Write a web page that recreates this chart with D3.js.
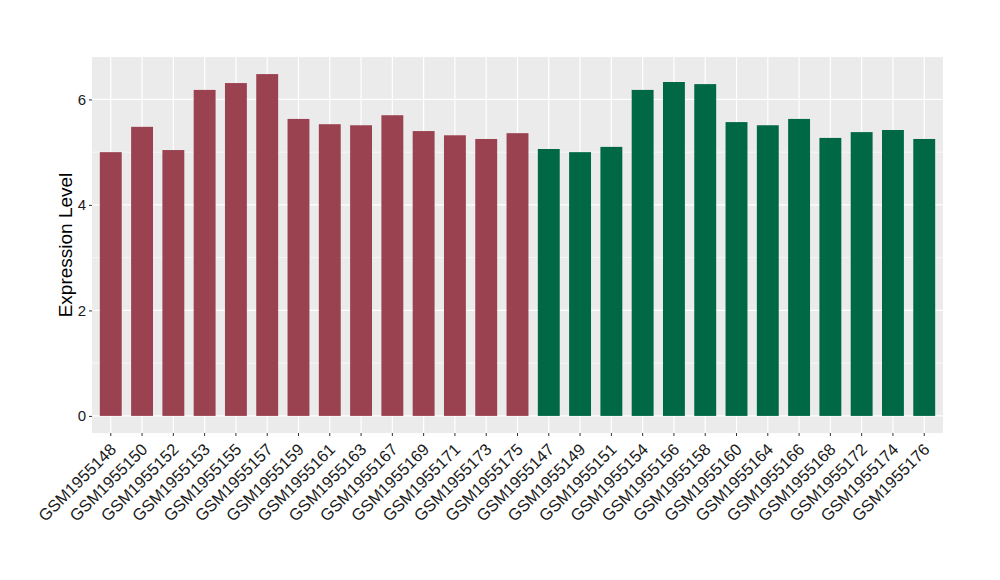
<!DOCTYPE html>
<html><head><meta charset="utf-8">
<script src="https://cdn.jsdelivr.net/npm/d3@7"></script>
<style>body{margin:0;background:#fff}svg{display:block}text{font-family:"Liberation Sans",Arial,sans-serif}</style>
</head><body>
<svg id="chart" width="1000" height="580"></svg>
<script>
const samples = ["GSM1955148","GSM1955150","GSM1955152","GSM1955153","GSM1955155","GSM1955157","GSM1955159","GSM1955161","GSM1955163","GSM1955167","GSM1955169","GSM1955171","GSM1955173","GSM1955175","GSM1955147","GSM1955149","GSM1955151","GSM1955154","GSM1955156","GSM1955158","GSM1955160","GSM1955164","GSM1955166","GSM1955168","GSM1955172","GSM1955174","GSM1955176"];
const values = [5.00,5.48,5.04,6.18,6.31,6.48,5.63,5.53,5.51,5.70,5.40,5.32,5.25,5.36,5.06,5.00,5.10,6.18,6.33,6.29,5.57,5.51,5.63,5.27,5.38,5.42,5.25];
const groups = ["A","A","A","A","A","A","A","A","A","A","A","A","A","A","B","B","B","B","B","B","B","B","B","B","B","B","B"];
const groupColors = {A:"#9b4251", B:"#006845"};
const yTicks = [0,2,4,6];
const yMinor = [1,3,5];

const svg = d3.select("#chart");
const P = {l:92, r:943, t:57, b:433};
const n = samples.length;
const step = (P.r - P.l) / (n - 1 + 1.2);
const x = d3.scaleBand().domain(samples).range([P.l + 0.6*step - step/2, P.r - 0.6*step + step/2]).paddingInner(0.3).paddingOuter(0.15);
const maxV = d3.max(values);
const y = d3.scaleLinear().domain([-0.05*maxV, maxV*1.05]).range([P.b, P.t]);

svg.append("rect").attr("x",P.l).attr("y",P.t).attr("width",P.r-P.l).attr("height",P.b-P.t).attr("fill","#ebebeb");
const g = svg.append("g");
g.selectAll(".ymin").data(yMinor).join("line").attr("x1",P.l).attr("x2",P.r).attr("y1",d=>y(d)).attr("y2",d=>y(d)).attr("stroke","#fff").attr("stroke-width",0.6);
g.selectAll(".ymaj").data(yTicks).join("line").attr("x1",P.l).attr("x2",P.r).attr("y1",d=>y(d)).attr("y2",d=>y(d)).attr("stroke","#fff").attr("stroke-width",1.2);
g.selectAll(".xmaj").data(samples).join("line").attr("x1",d=>x(d)+x.bandwidth()/2).attr("x2",d=>x(d)+x.bandwidth()/2).attr("y1",P.t).attr("y2",P.b).attr("stroke","#fff").attr("stroke-width",1.2);

svg.append("g").selectAll("rect").data(values).join("rect")
  .attr("x",(d,i)=>x(samples[i])).attr("width",x.bandwidth())
  .attr("y",d=>y(d)).attr("height",d=>y(0)-y(d))
  .attr("fill",(d,i)=>groupColors[groups[i]]);

// y axis
const ya = svg.append("g").attr("transform",`translate(${P.l},0)`)
  .call(d3.axisLeft(y).tickValues(yTicks).tickSize(3).tickPadding(3).tickFormat(d3.format("d")));
ya.select(".domain").remove();
ya.selectAll(".tick line").attr("stroke","#333");
ya.selectAll("text").attr("font-size",15).attr("fill","#1a1a1a").attr("font-family","Liberation Sans, Arial, sans-serif");

// x axis
const xa = svg.append("g").attr("transform",`translate(0,${P.b})`)
  .call(d3.axisBottom(x).tickSize(3).tickPadding(3));
xa.select(".domain").remove();
xa.selectAll(".tick line").attr("stroke","#333");
xa.selectAll("text").attr("font-size",16.5).attr("fill","#1a1a1a").attr("font-family","Liberation Sans, Arial, sans-serif")
  .attr("text-anchor","end").attr("dy",null).attr("y",0)
  .attr("transform","translate(-2,9) rotate(-45)").attr("dominant-baseline","hanging");

svg.append("text").attr("transform",`translate(72,${(P.t+P.b)/2}) rotate(-90)`)
  .attr("text-anchor","middle").attr("font-size",19).attr("fill","#000").text("Expression Level");
</script>
</body></html>
